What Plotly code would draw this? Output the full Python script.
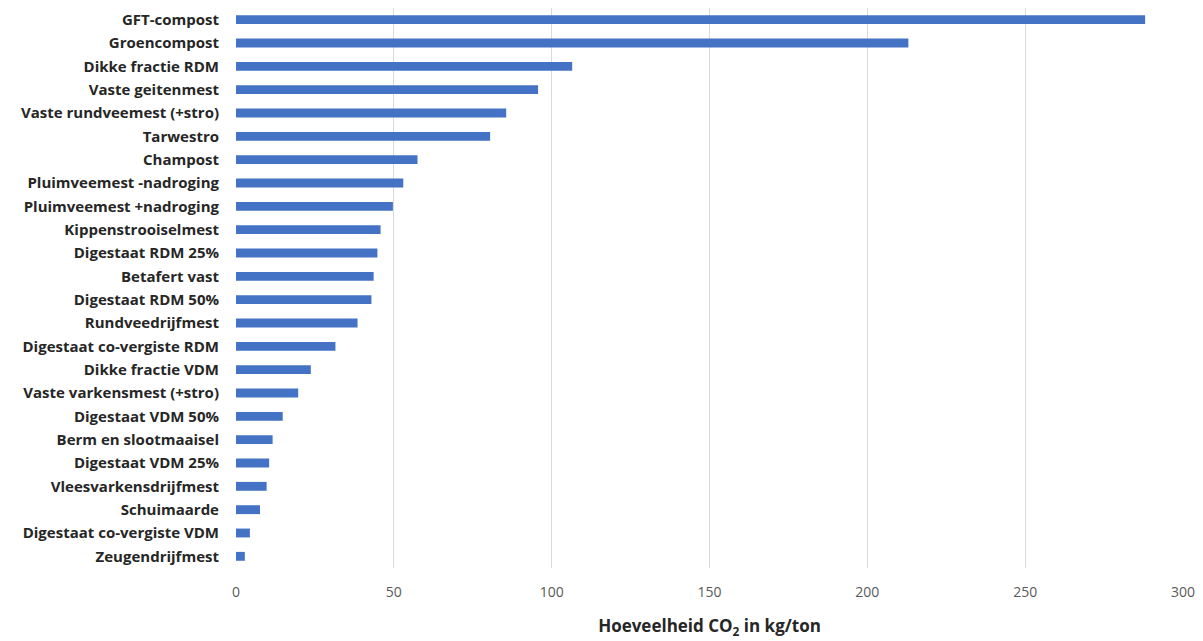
import plotly.graph_objects as go

# Materialen en CO2-hoeveelheid (kg/ton), van hoog naar laag
materialen = [
    "GFT-compost", "Groencompost", "Dikke fractie RDM", "Vaste geitenmest",
    "Vaste rundveemest (+stro)", "Tarwestro", "Champost",
    "Pluimveemest -nadroging", "Pluimveemest +nadroging", "Kippenstrooiselmest",
    "Digestaat RDM 25%", "Betafert vast", "Digestaat RDM 50%", "Rundveedrijfmest",
    "Digestaat co-vergiste RDM", "Dikke fractie VDM", "Vaste varkensmest (+stro)",
    "Digestaat VDM 50%", "Berm en slootmaaisel", "Digestaat VDM 25%",
    "Vleesvarkensdrijfmest", "Schuimaarde", "Digestaat co-vergiste VDM",
    "Zeugendrijfmest",
]
co2_kg_per_ton = [
    288, 213, 106.5, 95.7, 85.6, 80.5, 57.5, 53, 49.7, 45.8,
    44.8, 43.6, 42.9, 38.5, 31.5, 23.7, 19.7, 14.8, 11.6, 10.5,
    9.7, 7.6, 4.4, 2.8,
]
x_ticks = [0, 50, 100, 150, 200, 250, 300]

fig = go.Figure(
    go.Bar(
        x=co2_kg_per_ton,
        y=materialen,
        orientation="h",
        marker=dict(color="#4472C4", line=dict(width=0)),
    )
)

fig.update_layout(
    width=1203,
    height=641,
    margin=dict(l=236, r=17, t=8, b=71),
    paper_bgcolor="white",
    plot_bgcolor="white",
    bargap=0.62,
    showlegend=False,
    font=dict(family="Open Sans", color="#262626"),
)

fig.update_xaxes(
    range=[0, 300],
    tickvals=x_ticks,
    showgrid=True,
    gridcolor="#d9d9d9",
    gridwidth=1,
    zeroline=False,
    showline=False,
    ticks="",
    ticklabelstandoff=14,
    tickfont=dict(family="Open Sans", size=14, color="#595959"),
    title=dict(
        text="Hoeveelheid CO<sub>2</sub> in kg/ton",
        font=dict(family="Open Sans", size=17, color="#262626", weight=700),
        standoff=20,
    ),
)

fig.update_yaxes(
    autorange="reversed",
    showgrid=False,
    showline=False,
    ticks="",
    ticklabelstandoff=16,
    tickfont=dict(family="Open Sans", size=15, color="#262626", weight=700),
)

fig.write_html("out.html")
